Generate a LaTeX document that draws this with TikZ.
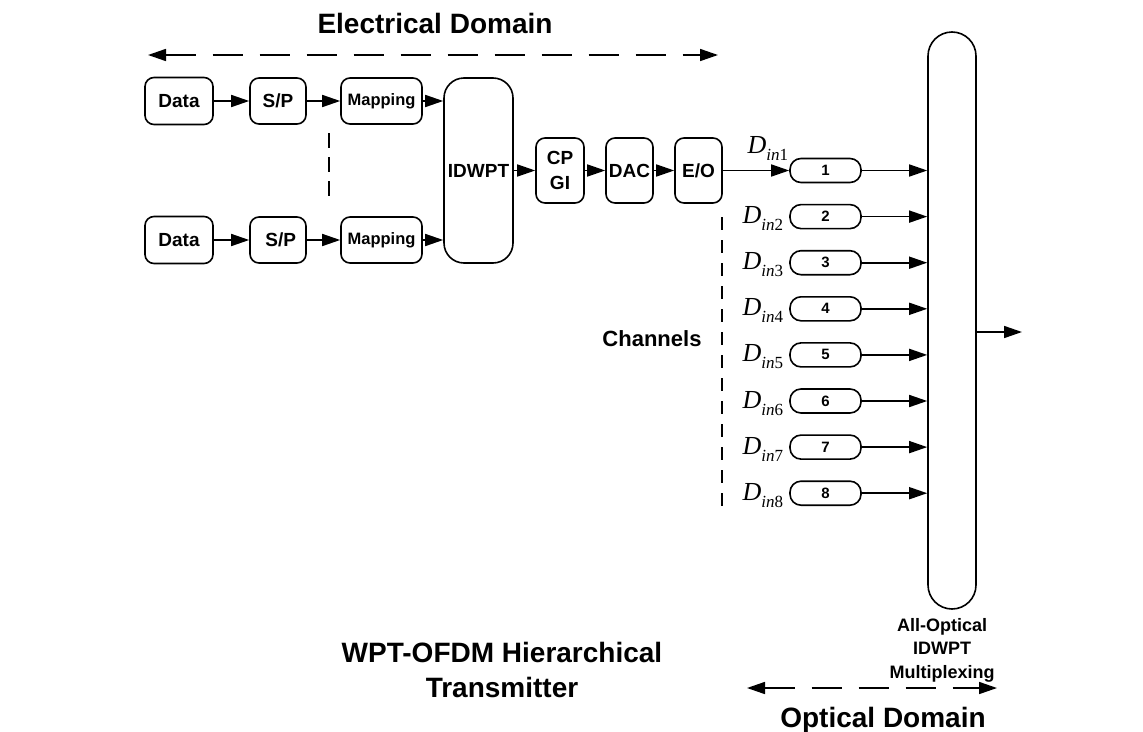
\documentclass[tikz,border=0pt]{standalone}
\usepackage{fontspec}
\setmainfont{Liberation Sans}
\newfontfamily\timesfont{Liberation Serif}
\usetikzlibrary{arrows.meta,positioning}

\newcommand{\Din}[1]{{\timesfont\itshape D}\raisebox{-7pt}{\fontsize{17}{17}\selectfont\timesfont\itshape in\upshape #1}}

\tikzset{
  box/.style={draw, line width=1.6pt, rounded corners=9pt, inner sep=0pt, align=center, font=\bfseries\fontsize{19}{20}\selectfont},
  chanbox/.style={draw, line width=1.6pt, rounded corners=11pt, minimum width=71pt, minimum height=24pt, inner sep=0pt, font=\bfseries\fontsize{15}{15}\selectfont},
  arr/.style={line width=1.6pt, -{Triangle[length=18pt,width=12pt]}},
  domarrow/.style={line width=1.6pt, dash pattern=on 30pt off 17pt, {Triangle[length=18pt,width=12pt]}-{Triangle[length=18pt,width=12pt]}},
  title/.style={font=\bfseries\fontsize{28}{35}\selectfont, inner sep=0pt, align=center},
  dlabel/.style={font=\fontsize{26}{26}\selectfont, inner sep=0pt, anchor=base east},
}

\begin{document}
\begin{tikzpicture}[x=1pt,y=-1pt]
\useasboundingbox (0,0) rectangle (1143,731);

% Electrical domain
\node[title, anchor=base] (elec) at (435,33) {Electrical Domain};
\coordinate (eleft) at (148,55);
\coordinate (eright) at (718,55);
\draw[domarrow] (eleft) -- (eright);

% Upper branch
\node[box, minimum width=68pt, minimum height=47pt] (data1) at (179,101) {Data};
\node[box, minimum width=56pt, minimum height=46pt] (sp1) at (278,101) {S/P};
\node[box, minimum width=81pt, minimum height=46pt, font=\bfseries\fontsize{16.5}{17}\selectfont] (map1) at (381.5,101) {Mapping};

% Lower branch
\node[box, minimum width=68pt, minimum height=47pt] (data2) at (179,240) {Data};
\node[box, minimum width=56pt, minimum height=46pt] (sp2) at (278,240) {~S/P};
\node[box, minimum width=81pt, minimum height=46pt, font=\bfseries\fontsize{16.5}{17}\selectfont] (map2) at (381.5,240) {Mapping};

% Branches in between
\draw[line width=1.6pt, dash pattern=on 15pt off 9pt] (329,133) -- (329,197);

% IDWPT and the chain after it
\node[box, minimum width=69pt, minimum height=185pt, rounded corners=20pt] (idwpt) at (478.5,170.5) {IDWPT};
\node[box, minimum width=48pt, minimum height=65pt, font=\bfseries\fontsize{19}{25}\selectfont] (cpgi) at (560,170.5) {CP\\GI};
\node[box, minimum width=47pt, minimum height=65pt] (dac) at (629.5,170.5) {DAC};
\node[box, minimum width=47pt, minimum height=65pt] (eo) at (698.5,170.5) {E/O};

\draw[arr] (data1) -- (sp1);
\draw[arr] (sp1) -- (map1);
\draw[arr] (map1) -- (map1 -| idwpt.west);
\draw[arr] (data2) -- (sp2);
\draw[arr] (sp2) -- (map2);
\draw[arr] (map2) -- (map2 -| idwpt.west);
\draw[arr] (idwpt) -- (cpgi);
\draw[arr] (cpgi) -- (dac);
\draw[arr] (dac) -- (eo);

% Channels
\foreach \i in {1,...,8} {
  \node[chanbox] (ch\i) at (825.5,{170.5+46.1*(\i-1)}) {\i};
}
\node[dlabel] (din1) at ([xshift=-1pt,yshift=17.5pt]ch1.west) {\Din{1}};
\foreach \i in {2,...,8} {
  \node[dlabel] (din\i) at ([xshift=-6pt,yshift=-7pt]ch\i.west) {\Din{\i}};
}
\draw[line width=1.6pt, -{Triangle[length=18pt,width=12pt]}] (eo) -- (ch1);

\draw[line width=1.6pt, dash pattern=on 13pt off 10pt] (722,217) -- (722,513);
\node[font=\bfseries\fontsize{22}{22}\selectfont, anchor=base] (chlabel) at (652,346) {Channels};

% All-optical multiplexer
\node[draw, line width=1.6pt, rounded corners=24pt, minimum width=48pt, minimum height=577pt, inner sep=0pt] (mux) at (952,320.5) {};
\foreach \i in {1,...,8} {
  \draw[arr] (ch\i) -- (ch\i -| mux.west);
}
\coordinate (out) at (1022,332);
\draw[arr] (mux.east |- out) -- (out);
\node[font=\bfseries\fontsize{18}{23.5}\selectfont, align=center, inner sep=0pt, below=8pt of mux, xshift=-10pt] (muxlabel) {All-Optical\\IDWPT\\Multiplexing};

% Optical domain
\coordinate (oleft) at (747,688);
\coordinate (oright) at (997,688);
\draw[domarrow] (oleft) -- (oright);
\node[title, anchor=base] (opt) at (883,727) {Optical Domain};

% Title
\node[title] (tx) at (502,670) {WPT-OFDM Hierarchical\\Transmitter};
\end{tikzpicture}
\end{document}
